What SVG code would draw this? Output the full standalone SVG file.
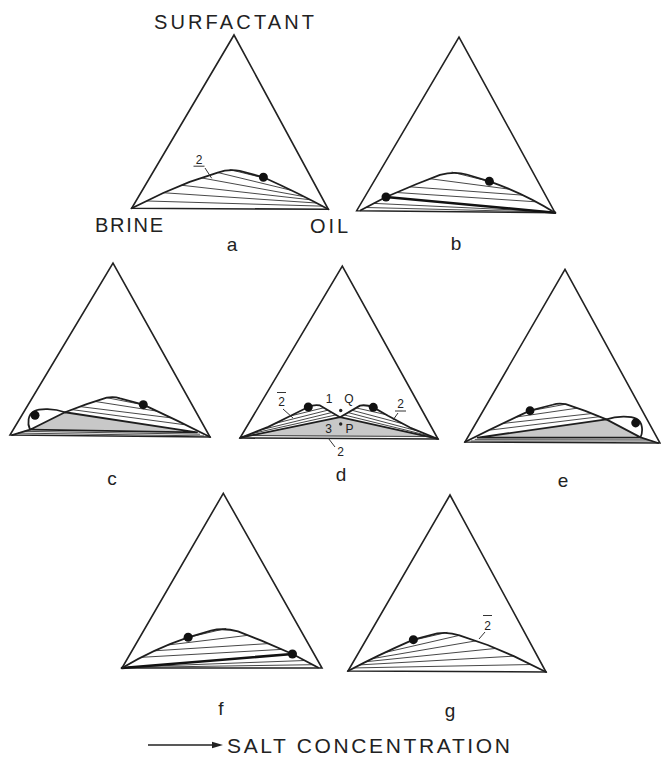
<svg xmlns="http://www.w3.org/2000/svg" xmlns:xlink="http://www.w3.org/1999/xlink" width="661" height="757" viewBox="0 0 661 757">
  <style>
    .tri { fill: none; stroke: #222; stroke-width: 1.6; stroke-linejoin: miter; }
    .bin { fill: none; stroke: #1e1e1e; stroke-width: 1.8; stroke-linejoin: round; stroke-linecap: round; }
    .tie { fill: none; stroke: #333; stroke-width: 0.9; }
    .heavy { stroke: #111; stroke-width: 2.6; stroke-linecap: round; }
    .shade { fill: #c8c8c8; }
    .dot { fill: #111; }
    .pt { fill: #222; }
    .lbl { font-family: "Liberation Sans", Arial, sans-serif; fill: #222; }
    .big { font-size: 20px; }
    .pan { font-size: 19px; text-anchor: middle; }
    .sm { font-size: 12px; text-anchor: middle; }
    .lead { fill: none; stroke: #333; stroke-width: 1; }
  </style>
  <defs>
    <!-- Type I: lower-phase microemulsion, plait point near the oil corner -->
    <g id="typeI">
      <g class="tie">
        <path d="M98,-39.2 L135.6,-30.2 M86,-36.2 L159.5,-18.8 M70,-30.7 L172.5,-12.5 M50,-23.3 L178.8,-9.4 M32,-15.7 L184.9,-6.2 M15,-7.4 L190.7,-3.1"/>
      </g>
      <path class="bin" d="M0,0 L32,-15.7 L58,-26.7 L86,-36.2 Q97,-40 108,-38 L131.7,-31.7 Q168,-15.5 196.6,0"/>
      <circle class="dot" cx="131.7" cy="-31.7" r="4.5"/>
    </g>
    <!-- Two plait points, critical tie line to the oil corner -->
    <g id="typeIb">
      <g class="tie">
        <path d="M95,-39.6 L135,-30 M73.3,-32.7 L152.9,-23 M53.3,-24.4 L166.2,-17.2 M40,-18.6 L179,-10.7 M17,-7.5 L192,-1 M9,-3.3 L194,-0.5"/>
      </g>
      <line class="heavy" x1="29.3" y1="-14" x2="198.3" y2="0"/>
      <path class="bin" d="M4,-0.5 L29.3,-14 L60,-27.3 L83.3,-36.7 Q98,-40.5 110,-37.3 L132.7,-30.7 Q167,-19 198.3,0"/>
      <circle class="dot" cx="29.3" cy="-14" r="4.5"/>
      <circle class="dot" cx="132.7" cy="-30.7" r="4.5"/>
    </g>
    <!-- Three-phase triangle appearing on the brine side -->
    <g id="typeIIIa">
      <path class="shade" d="M20,-5.5 L55,-23.3 L187,-4.5 Z"/>
      <g class="tie">
        <path d="M96.7,-38.3 L136,-31 M85,-34.4 L147,-25.3 M70,-29.1 L160.6,-18.8 M62,-26 L173.9,-12.1 M8,-2 L194,-1 M14,-3.8 L190,-2.7"/>
      </g>
      <path class="bin" d="M20,-5.5 L55,-23.3 L187,-4.5 Z"/>
      <path class="bin" d="M2,0 L20,-5.5 C17,-12 18,-21 24,-24 C30,-27 44,-27 55,-23.3 L76.7,-31.7 L96.7,-38.3 Q104,-39.8 110,-37.7 L133.3,-31.7 Q168,-16 200,0"/>
      <circle class="dot" cx="25" cy="-20" r="4.5"/>
      <circle class="dot" cx="133.3" cy="-31.7" r="4.5"/>
    </g>
    <!-- Optimal salinity: symmetric three-phase triangle between two lobes -->
    <g id="typeIIIopt">
      <path class="shade" d="M4,-1.8 L100,-21.3 L194,-1.6 Z"/>
      <g class="tie">
        <path d="M10,-4 L96,-23.6 M20,-8 L92,-26 M35,-14.7 L88,-28.3 M50,-22.2 L84,-30.7"/>
        <path d="M104,-23.6 L188,-3.4 M108,-26 L178,-7.8 M112,-28.3 L163,-15 M116,-30.7 L146,-24.1"/>
        <path d="M6,-2.6 L192,-2.4"/>
      </g>
      <path class="bin" d="M1,-0.5 L100,-21.3 L197,-0.4"/>
      <path class="bin" d="M0,0 L28.3,-11.3 L51.7,-23 L68.3,-31.3 Q74,-34.2 80,-33 L100,-21.3 L120,-33 Q126,-34.2 133.3,-31.3 L148,-23 L170,-11.3 L198,0"/>
      <circle class="dot" cx="68.3" cy="-31.3" r="4.5"/>
      <circle class="dot" cx="133.3" cy="-31.3" r="4.5"/>
    </g>
  </defs>

  <!-- panel a -->
  <g id="panel-a">
    <polygon class="tri" points="131.7,208.3 328.3,209.3 234,35"/>
    <use xlink:href="#typeI" transform="matrix(1,0.005,0,1,131.7,208.3)"/>
    <text class="lbl sm" x="199" y="163.5">2</text>
    <path class="lead" d="M193.5,166.2 H204.5 M205,168 L211.7,178.3"/>
    <text class="lbl big" x="154" y="29" textLength="160" lengthAdjust="spacing">SURFACTANT</text>
    <text class="lbl big" x="95" y="232" textLength="68" lengthAdjust="spacing">BRINE</text>
    <text class="lbl big" x="310" y="233" textLength="38" lengthAdjust="spacing">OIL</text>
    <text class="lbl pan" x="232" y="251">a</text>
  </g>

  <!-- panel b -->
  <g id="panel-b">
    <polygon class="tri" points="356.7,210.7 555,212.7 459,37"/>
    <use xlink:href="#typeIb" transform="matrix(1,0.01,0,1,356.7,210.7)"/>
    <text class="lbl pan" x="456" y="250">b</text>
  </g>

  <!-- panel c -->
  <g id="panel-c">
    <polygon class="tri" points="10,435 210,437 113,263"/>
    <use xlink:href="#typeIIIa" transform="matrix(1,0.01,0,1,10,435)"/>
    <text class="lbl pan" x="112" y="485">c</text>
  </g>

  <!-- panel d -->
  <g id="panel-d">
    <polygon class="tri" points="240,438 438,439 342.3,266"/>
    <use xlink:href="#typeIIIopt" transform="matrix(1,0.005,0,1,240,438)"/>
    <text class="lbl sm" x="281.5" y="406">2</text>
    <path class="lead" d="M277,392.5 H286 M283,409 L293,418"/>
    <text class="lbl sm" x="329" y="403">1</text>
    <text class="lbl sm" x="349" y="403">Q</text>
    <circle class="pt" cx="340.7" cy="410.5" r="1.7"/>
    <text class="lbl sm" x="328.5" y="433">3</text>
    <circle class="pt" cx="340.7" cy="424" r="1.7"/>
    <text class="lbl sm" x="349.5" y="433">P</text>
    <text class="lbl sm" x="400.5" y="408">2</text>
    <path class="lead" d="M395,411 H406 M398,413 L393,420"/>
    <text class="lbl sm" x="340.5" y="456">2</text>
    <path class="lead" d="M328.5,438.5 L335,447"/>
    <text class="lbl pan" x="341" y="481">d</text>
  </g>

  <!-- panel e -->
  <g id="panel-e">
    <polygon class="tri" points="465,442 660,443 565,269.3"/>
    <use xlink:href="#typeIIIa" transform="matrix(-0.975,-0.005,0,1,660,443)"/>
    <text class="lbl pan" x="563" y="487">e</text>
  </g>

  <!-- panel f -->
  <g id="panel-f">
    <polygon class="tri" points="122,668 322,668 223.3,493.3"/>
    <use xlink:href="#typeIb" transform="matrix(-1.0086,0,0,1,322,668)"/>
    <text class="lbl pan" x="221" y="715">f</text>
  </g>

  <!-- panel g -->
  <g id="panel-g">
    <polygon class="tri" points="348,671 546,672 450,495"/>
    <use xlink:href="#typeI" transform="matrix(-1.007,-0.005,0,1,546,672)"/>
    <text class="lbl sm" x="487.5" y="629.5">2</text>
    <path class="lead" d="M483,615.5 H492 M485,632 L479,639"/>
    <text class="lbl pan" x="450" y="717">g</text>
  </g>

  <!-- salt concentration arrow -->
  <g id="connectors">
    <line x1="148" y1="745" x2="215" y2="745" stroke="#222" stroke-width="1.5"/>
    <polygon points="212,741.8 223,745 212,748.2" fill="#222"/>
  </g>
  <text class="lbl" x="227" y="753" font-size="21" textLength="283" lengthAdjust="spacing">SALT CONCENTRATION</text>
</svg>
